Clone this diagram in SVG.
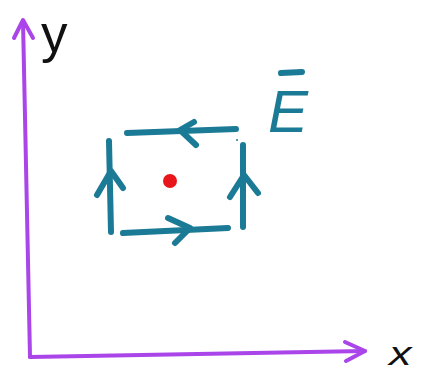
<svg xmlns="http://www.w3.org/2000/svg" width="425" height="372" viewBox="0 0 425 372">
<style>
.ax{fill:none;stroke:#aa45ea;stroke-width:4;stroke-linecap:round;stroke-linejoin:round}
.lp{fill:none;stroke:#1b7a95;stroke-width:6;stroke-linecap:round;stroke-linejoin:round}
.lbl{font-family:"Liberation Sans",sans-serif;fill:#111}
.e{font-family:"Liberation Sans",sans-serif;font-style:italic;fill:#1b7a95}
</style>
<rect width="425" height="372" fill="#fff"/>
<g id="axes">
<path class="ax" d="M30,357 L23,21"/>
<path class="ax" d="M14,38 L23,20 L33,38"/>
<path class="ax" d="M30,357 L365,351"/>
<path class="ax" d="M345,342 L365,351 L346,361"/>
</g>
<text class="lbl" x="41" y="52" font-size="53">y</text>
<text class="lbl" transform="translate(389,365) scale(1.5,1.1)" x="0" y="0" font-size="30" font-style="italic">x</text>
<g id="loop">
<path class="lp" d="M127,133 L236,129"/>
<path class="lp" d="M194,122 L180,130 L196,145"/>
<path class="lp" d="M109,141 L111,232"/>
<path class="lp" d="M97,195 L111,171 L123,188"/>
<path class="lp" d="M123,233 L228,228"/>
<path class="lp" d="M168,218 L190,228 L175,243"/>
<path class="lp" d="M243,145 L243,227"/>
<path class="lp" d="M230,197 L244,175 L258,193"/>
<circle cx="237" cy="140" r="1" fill="#1b7a95"/>
</g>
<circle id="dot" cx="170" cy="181" r="7" fill="#e8151b"/>
<g id="E">
<path class="lp" d="M281,73 L302,72" stroke-width="5"/>
<text class="e" x="268" y="132" font-size="60">E</text>
</g>
</svg>
